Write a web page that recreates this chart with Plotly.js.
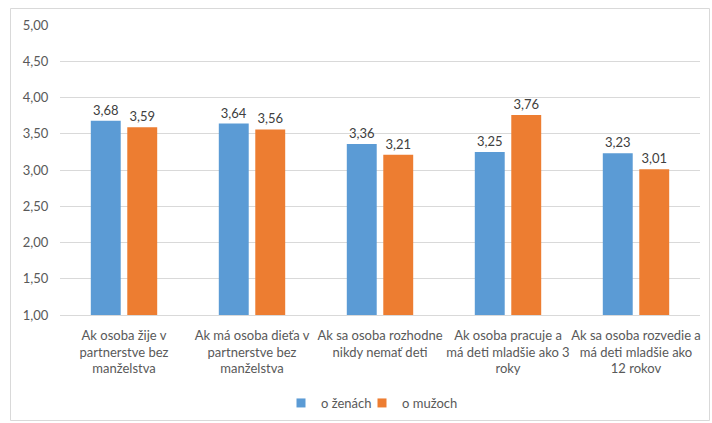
<!DOCTYPE html>
<html>
<head>
<meta charset="utf-8">
<script src="https://cdn.plot.ly/plotly-3.0.1.min.js"></script>
<style>html,body{margin:0;padding:0;background:#fff;}#chart{width:712px;height:423px;}</style>
</head>
<body>
<div id="chart"></div>
<script>
const categories = [
  "Ak osoba žije v<br>partnerstve bez<br>manželstva",
  "Ak má osoba dieťa v<br>partnerstve bez<br>manželstva",
  "Ak sa osoba rozhodne<br>nikdy nemať deti",
  "Ak osoba pracuje a<br>má deti mladšie ako 3<br>roky",
  "Ak sa osoba rozvedie a<br>má deti mladšie ako<br>12 rokov"
];
const womenValues = [3.68, 3.64, 3.36, 3.25, 3.23];
const menValues = [3.59, 3.56, 3.21, 3.76, 3.01];
const seriesNames = ["o ženách", "o mužoch"];
const seriesColors = ["#5B9BD5", "#ED7D31"];
const yTicks = [1, 1.5, 2, 2.5, 3, 3.5, 4, 4.5, 5];

const font = {family: "Lato, 'Liberation Sans', sans-serif", size: 13, color: "#595959"};
const base = {
  type: "bar",
  x: categories,
  texttemplate: "%{y:.2f}",
  textposition: "outside",
  cliponaxis: false,
  textfont: {family: font.family, size: 13, color: "#404040"},
  hoverinfo: "skip",
  showlegend: false
};
const data = [
  Object.assign({}, base, {name: seriesNames[0], y: womenValues, marker: {color: seriesColors[0]}}),
  Object.assign({}, base, {name: seriesNames[1], y: menValues, marker: {color: seriesColors[1]}})
];
// legend-only entries with small square swatches, one legend each
const legendIds = ["legend", "legend2"];
seriesNames.forEach((n, i) => data.push({
  type: "scatter", mode: "markers", x: [null], y: [null], name: n, showlegend: true, legend: legendIds[i],
  marker: {symbol: "square", size: 9, color: seriesColors[i]}, hoverinfo: "skip"
}));
const L = 60, R = 12, T = 25, B = 108, W = 712, H = 423;
const pw = W - L - R, ph = H - T - B;
const legBase = {orientation: "h", xanchor: "left", yref: "container", y: (H - 403) / H, yanchor: "middle",
                 bgcolor: "rgba(0,0,0,0)", font: {family: font.family, size: 13, color: "#595959"}, itemwidth: 30};
const layout = {
  width: W, height: H,
  margin: {l: L, r: R, t: T, b: B, pad: 0},
  paper_bgcolor: "#fff", plot_bgcolor: "#fff",
  separators: ", ",
  font: font,
  barmode: "group",
  bargap: 0.43,
  bargroupgap: 0.18,
  showlegend: true,
  legend: Object.assign({}, legBase, {x: (281 - L) / pw}),
  legend2: Object.assign({}, legBase, {x: (362 - L) / pw}),
  xaxis: {tickfont: {family: font.family, size: 13, color: "#595959"}, tickangle: 0, showline: true, linecolor: "#D9D9D9",
          linewidth: 1, ticks: "outside", ticklen: 8, tickcolor: "rgba(0,0,0,0)", showgrid: false, fixedrange: true,
          automargin: false},
  yaxis: {range: [1, 5], tickvals: yTicks, tickformat: ".2f", showgrid: true, gridcolor: "#D9D9D9",
          zeroline: false, showline: false, ticks: "outside", ticklen: 8, tickcolor: "rgba(0,0,0,0)",
          tickfont: {family: font.family, size: 13, color: "#595959"}, fixedrange: true, automargin: false},
  shapes: [{type: "rect", xref: "paper", yref: "paper",
            x0: (10.5 - L) / pw, x1: (709.5 - L) / pw,
            y0: (H - B - 420.5) / ph, y1: (H - B - 8.5) / ph,
            line: {color: "#D9D9D9", width: 1}, layer: "below"}]
};
Plotly.newPlot("chart", data, layout, {displayModeBar: false, staticPlot: true});
</script>
</body>
</html>
